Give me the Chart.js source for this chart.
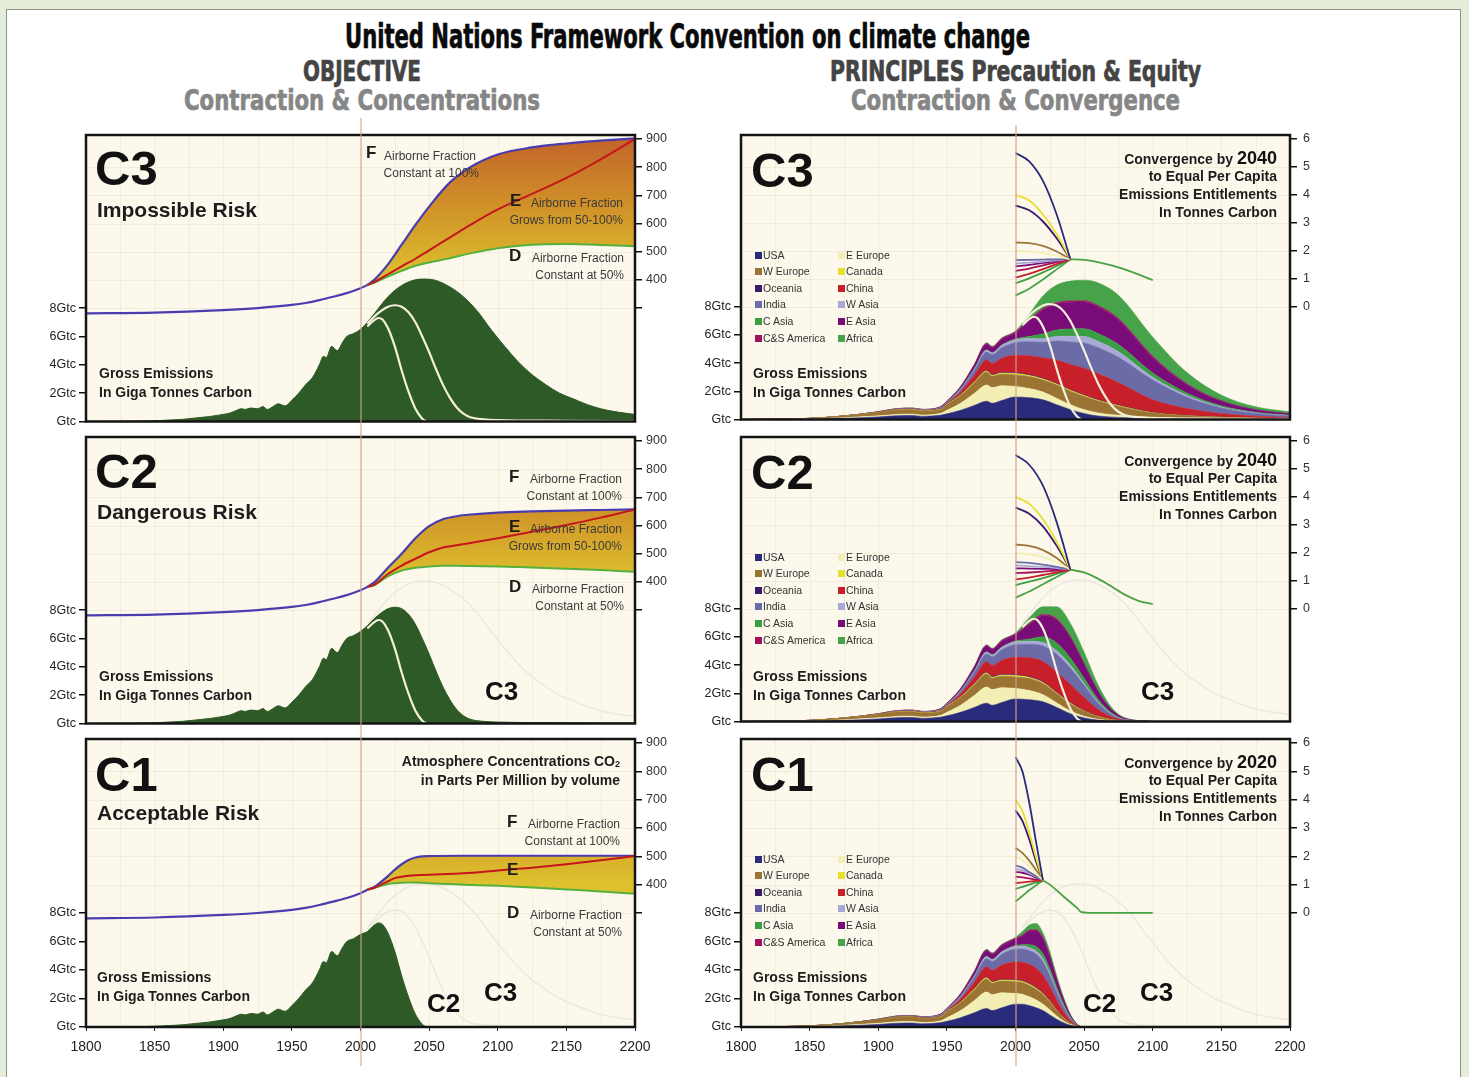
<!DOCTYPE html>
<html>
<head>
<meta charset="utf-8">
<script src="https://cdn.jsdelivr.net/npm/chart.js@4.4.1/dist/chart.umd.min.js"></script>
<style>
  body { margin: 0; width: 1469px; height: 1077px; overflow: hidden; position: relative;
         background: #e4edd9; font-family: Arial, "Liberation Sans", sans-serif; }
  #sheet { position: absolute; left: 6px; top: 9px; width: 1453px; height: 1100px;
           background: #fff; border: 1px solid #8c9488; }
  .cv { position: absolute; }
  .t { position: absolute; white-space: nowrap; line-height: 1; }
  .head { position: absolute; white-space: nowrap; line-height: 1; font-weight: bold;
          font-family: "Liberation Sans Narrow", "DejaVu Sans Condensed", sans-serif;
          transform-origin: 0 0; -webkit-text-stroke: 0.7px currentColor; }
  .y2000 { position: absolute; width: 2px; background: rgba(205,165,140,0.55); pointer-events: none; }
  .sq { position: absolute; width: 7px; height: 7px; }
</style>
</head>
<body>
<div id="sheet"></div>
<script>
// ---------- axis ticks ----------
const xTickYears = [1800, 1850, 1900, 1950, 2000, 2050, 2100, 2150, 2200];
const xTickLabels = ['1800', '1850', '1900', '1950', '2000', '2050', '2100', '2150', '2200'];
const gtcTicks = [0, 2, 4, 6, 8];
const gtcLabels = ['Gtc', '2Gtc', '4Gtc', '6Gtc', '8Gtc'];
const ppmTicks = [300, 400, 500, 600, 700, 800, 900];
const ppmLabels = ['', '400', '500', '600', '700', '800', '900'];
const pcTicks = [0, 1, 2, 3, 4, 5, 6];
const pcLabels = ['0', '1', '2', '3', '4', '5', '6'];

// ---------- gross emissions (Gt carbon) ----------
const emHistYears = [1800, 1830, 1850, 1860, 1870, 1880, 1890, 1900, 1905, 1910, 1913, 1916, 1920, 1925, 1929, 1932, 1937, 1940, 1945, 1950, 1955, 1960, 1965, 1970, 1973, 1975, 1979, 1983, 1987, 1990, 1995, 2000];
const emHist = [0, 0.02, 0.05, 0.1, 0.15, 0.25, 0.35, 0.5, 0.6, 0.8, 0.9, 0.85, 0.95, 0.9, 1.05, 0.85, 1.1, 1.25, 1.1, 1.5, 2.0, 2.6, 3.1, 4.0, 4.6, 4.5, 5.3, 5.0, 5.6, 6.0, 6.2, 6.5];
const emC3Years = [2005, 2010, 2020, 2030, 2040, 2046, 2055, 2065, 2075, 2085, 2095, 2105, 2115, 2125, 2135, 2145, 2155, 2165, 2175, 2185, 2200];
const emC3 = [7.0, 7.6, 8.8, 9.6, 10.0, 10.05, 9.95, 9.5, 8.8, 7.8, 6.5, 5.3, 4.2, 3.3, 2.6, 2.0, 1.6, 1.2, 0.9, 0.7, 0.5];
const emC2Years = [2005, 2010, 2015, 2020, 2025, 2030, 2035, 2040, 2045, 2050, 2055, 2060, 2065, 2070, 2075, 2080, 2090, 2100, 2150, 2200];
const emC2 = [6.9, 7.4, 7.8, 8.1, 8.2, 8.1, 7.7, 7.0, 6.0, 4.9, 3.7, 2.6, 1.7, 1.0, 0.55, 0.3, 0.15, 0.1, 0.05, 0.03];
const emC1Years = [2005, 2010, 2013, 2016, 2020, 2025, 2030, 2035, 2040, 2045, 2048];
const emC1 = [6.7, 7.15, 7.3, 7.2, 6.6, 5.3, 3.6, 2.1, 0.9, 0.2, 0];

// ---------- atmospheric concentration (ppmv) ----------
const concHistYears = [1800, 1850, 1900, 1925, 1950, 1960, 1970, 1980, 1990, 2000, 2005];
const concHist = [281, 284, 293, 300, 311, 318, 328, 340, 353, 370, 382];
const concC3Years = [2005, 2010, 2020, 2030, 2040, 2050, 2065, 2080, 2100, 2125, 2150, 2175, 2200];
const concC3F = [382, 400, 455, 525, 595, 660, 745, 800, 845, 870, 884, 894, 902];
const concC3E = [382, 392, 420, 448, 475, 505, 550, 595, 650, 705, 762, 828, 900];
const concC3D = [382, 390, 412, 432, 450, 462, 477, 494, 512, 525, 527, 524, 519];
const concC2Years = [2005, 2010, 2020, 2030, 2040, 2050, 2060, 2070, 2080, 2100, 2125, 2150, 2175, 2200];
const concC2F = [382, 398, 450, 500, 555, 598, 622, 633, 639, 646, 650, 653, 655, 657];
const concC2E = [382, 390, 428, 458, 482, 505, 522, 530, 538, 555, 578, 602, 628, 657];
const concC2D = [382, 388, 420, 440, 450, 455, 457, 457, 456, 455, 451, 447, 442, 436];
const concC1Years = [2005, 2010, 2015, 2020, 2025, 2030, 2035, 2040, 2045, 2050, 2075, 2100, 2125, 2150, 2175, 2200];
const concC1F = [382, 392, 410, 430, 453, 472, 487, 496, 500, 501, 502, 502, 502, 502, 502, 502];
const concC1E = [382, 389, 400, 412, 423, 428, 431, 433, 434, 435, 440, 450, 460, 472, 486, 501];
const concC1D = [382, 388, 396, 402, 405, 407, 408, 408, 407, 405, 400, 396, 390, 383, 376, 368];

// ---------- regional emissions, stacked (Gt carbon), legend order ----------
const regions = ['USA', 'E Europe', 'W Europe', 'Canada', 'Oceania', 'China', 'India', 'W Asia', 'C Asia', 'E Asia', 'C&S America', 'Africa'];
const regionColors = ['#2b2b7c', '#f3efb4', '#9b7434', '#e6df2e', '#3b1a6c', '#c8202a', '#6b6ba8', '#a9a9d8', '#3a9f42', '#7a0c7a', '#a3125c', '#46a34a'];
const stackHistYears = [1800, 1850, 1875, 1900, 1913, 1925, 1932, 1945, 1950, 1960, 1970, 1979, 1983, 1990, 2000];
const layersHist = [
  [0, 0.02, 0.08, 0.18, 0.26, 0.28, 0.22, 0.30, 0.40, 0.65, 1.00, 1.30, 1.15, 1.35, 1.60],
  [0, 0.01, 0.04, 0.08, 0.10, 0.10, 0.10, 0.12, 0.25, 0.50, 0.85, 1.15, 1.12, 1.05, 0.75],
  [0, 0.05, 0.12, 0.24, 0.32, 0.32, 0.28, 0.28, 0.40, 0.55, 0.75, 0.92, 0.80, 0.82, 0.82],
  [0, 0, 0.01, 0.01, 0.02, 0.02, 0.02, 0.02, 0.03, 0.04, 0.06, 0.08, 0.07, 0.08, 0.09],
  [0, 0, 0, 0.01, 0.01, 0.01, 0.01, 0.01, 0.01, 0.02, 0.03, 0.04, 0.04, 0.05, 0.05],
  [0, 0, 0, 0.01, 0.01, 0.02, 0.02, 0.03, 0.05, 0.20, 0.45, 0.75, 0.80, 1.00, 1.25],
  [0, 0, 0, 0.01, 0.02, 0.02, 0.03, 0.04, 0.06, 0.15, 0.35, 0.55, 0.62, 0.75, 0.90],
  [0, 0, 0, 0, 0, 0.01, 0.01, 0.02, 0.02, 0.05, 0.08, 0.13, 0.12, 0.15, 0.20],
  [0, 0, 0, 0, 0, 0, 0, 0.01, 0.01, 0.02, 0.03, 0.04, 0.04, 0.05, 0.06],
  [0, 0, 0, 0.01, 0.02, 0.02, 0.02, 0.04, 0.05, 0.12, 0.25, 0.40, 0.35, 0.40, 0.45],
  [0, 0, 0, 0, 0.01, 0.01, 0.01, 0.02, 0.02, 0.03, 0.04, 0.05, 0.05, 0.05, 0.06],
  [0, 0, 0, 0, 0, 0, 0, 0.01, 0.01, 0.02, 0.03, 0.04, 0.04, 0.05, 0.06]
];
const stackC3Years = [2010, 2020, 2030, 2040, 2050, 2060, 2075, 2100, 2125, 2150, 2175, 2200];
const layersC3 = [
  [1.55, 1.40, 1.05, 0.70, 0.42, 0.25, 0.15, 0.07, 0.04, 0.03, 0.02, 0.01],
  [0.65, 0.55, 0.45, 0.35, 0.28, 0.22, 0.15, 0.09, 0.05, 0.03, 0.02, 0.01],
  [0.85, 0.85, 0.95, 0.95, 0.94, 0.85, 0.65, 0.30, 0.17, 0.09, 0.05, 0.03],
  [0.08, 0.08, 0.07, 0.07, 0.06, 0.05, 0.04, 0.02, 0.01, 0.01, 0.01, 0],
  [0.05, 0.05, 0.05, 0.04, 0.04, 0.04, 0.03, 0.02, 0.01, 0.01, 0, 0],
  [1.35, 1.45, 1.65, 1.80, 1.90, 1.85, 1.60, 0.90, 0.50, 0.25, 0.13, 0.08],
  [1.00, 1.10, 1.35, 1.60, 1.80, 1.85, 1.80, 1.40, 0.80, 0.40, 0.20, 0.12],
  [0.22, 0.25, 0.33, 0.40, 0.45, 0.45, 0.40, 0.20, 0.12, 0.06, 0.03, 0.02],
  [0.15, 0.35, 0.45, 0.52, 0.55, 0.55, 0.50, 0.30, 0.17, 0.09, 0.05, 0.03],
  [1.10, 1.70, 1.85, 1.90, 1.90, 1.90, 1.75, 1.10, 0.60, 0.33, 0.17, 0.10],
  [0.08, 0.10, 0.10, 0.10, 0.10, 0.10, 0.10, 0.10, 0.06, 0.03, 0.02, 0.01],
  [0.40, 0.90, 1.25, 1.40, 1.45, 1.60, 1.65, 1.35, 0.80, 0.40, 0.20, 0.13]
];
const stackC2Years = [2010, 2020, 2030, 2040, 2050, 2060, 2070, 2080, 2100];
const layersC2 = [
  [1.55, 1.40, 1.00, 0.55, 0.25, 0.10, 0.04, 0.01, 0],
  [0.65, 0.50, 0.32, 0.20, 0.12, 0.06, 0.02, 0.01, 0],
  [0.85, 0.80, 0.65, 0.50, 0.35, 0.18, 0.07, 0.02, 0],
  [0.08, 0.07, 0.06, 0.05, 0.03, 0.02, 0.01, 0, 0],
  [0.05, 0.05, 0.04, 0.03, 0.02, 0.01, 0.01, 0, 0],
  [1.35, 1.45, 1.45, 1.30, 0.95, 0.50, 0.18, 0.04, 0],
  [0.95, 1.10, 1.25, 1.15, 0.85, 0.45, 0.17, 0.04, 0],
  [0.22, 0.25, 0.25, 0.22, 0.15, 0.08, 0.03, 0.01, 0],
  [0.15, 0.40, 0.55, 0.50, 0.35, 0.20, 0.08, 0.02, 0],
  [1.05, 1.50, 1.65, 1.45, 1.00, 0.55, 0.22, 0.06, 0],
  [0.07, 0.08, 0.08, 0.07, 0.05, 0.03, 0.01, 0, 0],
  [0.40, 0.55, 0.85, 0.95, 0.80, 0.45, 0.16, 0.04, 0]
];
const stackC1Years = [2005, 2010, 2015, 2020, 2025, 2030, 2035, 2040, 2045, 2048];
const layersC1 = [
  [1.60, 1.50, 1.35, 1.15, 0.85, 0.55, 0.30, 0.12, 0.03, 0],
  [0.70, 0.62, 0.55, 0.45, 0.35, 0.22, 0.12, 0.05, 0.01, 0],
  [0.82, 0.80, 0.75, 0.68, 0.55, 0.38, 0.22, 0.09, 0.02, 0],
  [0.08, 0.08, 0.07, 0.06, 0.05, 0.03, 0.02, 0.01, 0, 0],
  [0.05, 0.05, 0.05, 0.04, 0.03, 0.02, 0.01, 0.01, 0, 0],
  [1.30, 1.35, 1.35, 1.25, 1.00, 0.70, 0.40, 0.17, 0.04, 0],
  [0.92, 0.95, 1.00, 0.95, 0.78, 0.55, 0.33, 0.14, 0.03, 0],
  [0.21, 0.22, 0.22, 0.21, 0.17, 0.12, 0.07, 0.03, 0.01, 0],
  [0.10, 0.20, 0.30, 0.35, 0.30, 0.22, 0.13, 0.06, 0.01, 0],
  [0.60, 0.95, 1.10, 1.05, 0.85, 0.55, 0.32, 0.13, 0.03, 0],
  [0.07, 0.08, 0.08, 0.08, 0.06, 0.04, 0.02, 0.01, 0, 0],
  [0.25, 0.35, 0.45, 0.33, 0.31, 0.22, 0.16, 0.08, 0.02, 0]
];

// ---------- per capita entitlements (tonnes carbon) ----------
const pcC3Years = [2000, 2010, 2020, 2030, 2040];
const pcC3 = [
  [5.5, 5.2, 4.5, 3.3, 1.7], [2.0, 1.98, 1.92, 1.83, 1.7], [2.3, 2.28, 2.18, 1.98, 1.7],
  [4.0, 3.8, 3.3, 2.6, 1.7], [3.62, 3.45, 3.05, 2.45, 1.7], [1.05, 1.18, 1.35, 1.53, 1.7],
  [1.67, 1.68, 1.69, 1.7, 1.7], [1.55, 1.58, 1.62, 1.66, 1.7], [0.85, 1.02, 1.23, 1.46, 1.7],
  [1.45, 1.5, 1.57, 1.64, 1.7], [1.28, 1.37, 1.48, 1.6, 1.7], [0.4, 0.65, 0.98, 1.34, 1.7]
];
const pcC2Years = [2000, 2010, 2020, 2030, 2040];
const pcC2 = [
  [5.5, 5.15, 4.4, 3.1, 1.4], [2.0, 1.95, 1.85, 1.67, 1.4], [2.3, 2.25, 2.1, 1.82, 1.4],
  [4.0, 3.75, 3.2, 2.4, 1.4], [3.62, 3.4, 2.95, 2.25, 1.4], [1.05, 1.12, 1.21, 1.3, 1.4],
  [1.67, 1.64, 1.58, 1.5, 1.4], [1.55, 1.53, 1.5, 1.46, 1.4], [0.85, 0.97, 1.1, 1.25, 1.4],
  [1.45, 1.44, 1.43, 1.42, 1.4], [1.28, 1.3, 1.33, 1.37, 1.4], [0.4, 0.62, 0.88, 1.14, 1.4]
];
const pcC1Years = [2000, 2005, 2010, 2015, 2020];
const pcC1 = [
  [5.5, 5.0, 3.9, 2.5, 1.15], [2.0, 1.87, 1.65, 1.4, 1.15], [2.3, 2.12, 1.85, 1.52, 1.15],
  [4.0, 3.6, 2.85, 1.95, 1.15], [3.62, 3.25, 2.6, 1.82, 1.15], [1.05, 1.08, 1.11, 1.13, 1.15],
  [1.67, 1.6, 1.45, 1.3, 1.15], [1.55, 1.5, 1.4, 1.28, 1.15], [0.85, 0.92, 1.0, 1.08, 1.15],
  [1.45, 1.42, 1.35, 1.25, 1.15], [1.28, 1.26, 1.22, 1.18, 1.15], [0.4, 0.6, 0.8, 0.98, 1.15]
];
const pcGlobC3Years = [2040, 2050, 2060, 2070, 2080, 2090, 2100];
const pcGlobC3 = [1.7, 1.68, 1.6, 1.48, 1.33, 1.15, 0.95];
const pcGlobC2Years = [2040, 2050, 2060, 2070, 2080, 2090, 2100];
const pcGlobC2 = [1.4, 1.3, 1.08, 0.8, 0.5, 0.28, 0.17];
const pcGlobC1Years = [2020, 2025, 2030, 2035, 2040, 2045, 2048, 2060, 2080, 2100];
const pcGlobC1 = [1.15, 1.0, 0.8, 0.58, 0.38, 0.17, 0.03, 0, 0, 0];

// ---------- layout ----------
Chart.defaults.font.family = 'Arial, "Liberation Sans", sans-serif';
Chart.defaults.color = '#222';
const LEFT_COL = { canvasLeft: 20, width: 670, leftW: 66 };
const RIGHT_COL = { canvasLeft: 690, width: 660, leftW: 51 };
const ROW_TOPS = [135, 437, 739];
const PLOT_W = 549, PLOT_H = 288, PAD_TOP = 15;
const GTC_MAX = 20.21;
const PPM_MIN = -102.5, PPM_MAX = 914.1;
const PC_MIN = -4.025, PC_MAX = 6.141;

const pts = (xs, ys) => xs.map((x, i) => ({ x, y: ys[i] }));
const smooth = { tension: 0.4, cubicInterpolationMode: 'monotone', pointRadius: 0 };

const panelPlugin = {
  id: 'panel',
  beforeDraw(chart) {
    const { ctx, chartArea: a, scales } = chart;
    ctx.save();
    ctx.fillStyle = '#fcf9ec';
    ctx.fillRect(a.left, a.top, a.right - a.left, a.bottom - a.top);
    ctx.strokeStyle = 'rgba(185,175,140,0.16)';
    ctx.lineWidth = 1;
    for (let yr = 1825; yr < 2200; yr += 25) {
      const x = Math.round(scales.x.getPixelForValue(yr)) + 0.5;
      ctx.beginPath(); ctx.moveTo(x, a.top); ctx.lineTo(x, a.bottom); ctx.stroke();
    }
    const yr = scales.yR;
    [300, 400, 500, 600, 700, 800].forEach(v => {
      const val = yr.options.max > 100 ? v : (v - 300) / 100;
      const y = Math.round(yr.getPixelForValue(val)) + 0.5;
      ctx.beginPath(); ctx.moveTo(a.left, y); ctx.lineTo(a.right, y); ctx.stroke();
    });
    ctx.restore();
  },
  afterDatasetsDraw(chart) {
    const { ctx, chartArea: a } = chart;
    ctx.save();
    ctx.strokeStyle = '#141414';
    ctx.lineWidth = 2.5;
    ctx.strokeRect(a.left, a.top, a.right - a.left, a.bottom - a.top);
    ctx.restore();
  }
};

function bandFill(ctx) {
  const ch = ctx.chart;
  if (!ch.chartArea) return 'rgba(0,0,0,0)';
  const y = ch.scales.yR;
  const g = ch.ctx.createLinearGradient(0, y.getPixelForValue(900), 0, y.getPixelForValue(400));
  g.addColorStop(0, '#c2642a');
  g.addColorStop(0.45, '#cf8f28');
  g.addColorStop(1, '#ddc22e');
  return g;
}

function makeScales(col, row, rightKind, stacked) {
  const bottomSpace = row === 2 ? 40 : 10;
  const rightW = col.width - col.leftW - PLOT_W;
  const tickGrid = { drawOnChartArea: false, tickLength: 7, color: '#111', lineWidth: 1.5 };
  const s = {
    x: {
      type: 'linear', min: 1800, max: 2200,
      afterBuildTicks: sc => { sc.ticks = xTickYears.map(v => ({ value: v })); },
      ticks: { display: row === 2, callback: (v, i) => xTickLabels[i], font: { size: 14 }, color: '#222', padding: 8, maxRotation: 0, autoSkip: false },
      grid: { drawOnChartArea: false, drawTicks: row === 2, tickLength: 4, color: '#222' },
      border: { display: false },
      afterFit: sc => { sc.height = bottomSpace; }
    },
    yL: {
      position: 'left', min: 0, max: GTC_MAX, stacked: stacked,
      afterBuildTicks: sc => { sc.ticks = gtcTicks.map(v => ({ value: v })); },
      ticks: { callback: (v, i) => gtcLabels[i], font: { size: 12.5 }, color: '#222', padding: 3 },
      grid: tickGrid, border: { display: false },
      afterFit: sc => { sc.width = col.leftW; }
    },
    yW: { display: false, min: 0, max: GTC_MAX },
    yR: rightKind === 'ppm' ? {
      position: 'right', min: PPM_MIN, max: PPM_MAX,
      afterBuildTicks: sc => { sc.ticks = ppmTicks.map(v => ({ value: v })); },
      ticks: { callback: (v, i) => ppmLabels[i], font: { size: 12.5 }, color: '#333', padding: 4 },
      grid: tickGrid, border: { display: false },
      afterFit: sc => { sc.width = rightW; }
    } : {
      position: 'right', min: PC_MIN, max: PC_MAX,
      afterBuildTicks: sc => { sc.ticks = pcTicks.map(v => ({ value: v })); },
      ticks: { callback: (v, i) => pcLabels[i], font: { size: 12.5 }, color: '#333', padding: 6 },
      grid: tickGrid, border: { display: false },
      afterFit: sc => { sc.width = rightW; }
    }
  };
  return { scales: s, bottomSpace };
}

function makeChart(col, row, rightKind, stacked, datasets) {
  const { scales, bottomSpace } = makeScales(col, row, rightKind, stacked);
  const c = document.createElement('canvas');
  c.className = 'cv';
  c.width = col.width;
  c.height = PAD_TOP + PLOT_H + bottomSpace;
  c.style.width = c.width + 'px';
  c.style.height = c.height + 'px';
  c.style.left = col.canvasLeft + 'px';
  c.style.top = (ROW_TOPS[row] - PAD_TOP) + 'px';
  document.body.appendChild(c);
  new Chart(c, {
    type: 'line',
    data: { datasets },
    options: {
      responsive: false, animation: false, devicePixelRatio: 1,
      layout: { padding: { top: PAD_TOP, left: 0, right: 0, bottom: 0 } },
      plugins: { legend: { display: false }, tooltip: { enabled: false } },
      scales
    },
    plugins: [panelPlugin]
  });
}

const scen = {
  C3: { emX: emC3Years, em: emC3 },
  C2: { emX: emC2Years, em: emC2 },
  C1: { emX: emC1Years, em: emC1 }
};
const ghostLine = (s, axis) => ({ data: pts(scen[s].emX, scen[s].em), yAxisID: axis, borderColor: '#ebe9e0', borderWidth: 1.6, fill: false, order: 40, ...smooth });
const whiteLine = (s, axis) => ({ data: pts(scen[s].emX, scen[s].em), yAxisID: axis, borderColor: '#f4f0da', borderWidth: 2.2, fill: false, order: 20, ...smooth });

function leftDatasets(key, ghosts, whites, cy, cF, cE, cD) {
  const ds = [];
  ghosts.forEach(g => ds.push(ghostLine(g, 'yL')));
  ds.push({ data: pts(emHistYears.concat(scen[key].emX), emHist.concat(scen[key].em)), yAxisID: 'yL',
            backgroundColor: '#2e5a27', borderColor: '#2e5a27', borderWidth: 1, fill: 'origin', order: 30, ...smooth });
  whites.forEach(w => ds.push(whiteLine(w, 'yL')));
  const iD = ds.length;
  ds.push({ data: pts(cy, cD), yAxisID: 'yR', borderColor: '#58b03c', borderWidth: 2, fill: false, order: 6, ...smooth });
  ds.push({ data: pts(cy, cE), yAxisID: 'yR', borderColor: '#c4161c', borderWidth: 2, fill: false, order: 5, ...smooth });
  ds.push({ data: pts(cy, cF), yAxisID: 'yR', borderColor: '#4a3cae', borderWidth: 2.2, fill: iD, backgroundColor: bandFill, order: 7, ...smooth });
  ds.push({ data: pts(concHistYears, concHist), yAxisID: 'yR', borderColor: '#4a3cae', borderWidth: 2.2, fill: false, order: 4, ...smooth });
  return ds;
}

function rightDatasets(ghosts, whites, stackYears, layers, pcYears, pc, globYears, glob) {
  const ds = [];
  ghosts.forEach(g => ds.push(ghostLine(g, 'yW')));
  const xs = stackHistYears.concat(stackYears);
  regions.forEach((r, i) => {
    ds.push({ label: r, data: pts(xs, layersHist[i].concat(layers[i])), yAxisID: 'yL',
              backgroundColor: regionColors[i], borderColor: regionColors[i], borderWidth: 0.6,
              fill: i === 0 ? 'origin' : '-1', order: 30, ...smooth });
  });
  whites.forEach(w => ds.push(whiteLine(w, 'yW')));
  regions.forEach((r, i) => {
    ds.push({ data: pts(pcYears, pc[i]), yAxisID: 'yR', borderColor: regionColors[i], borderWidth: 1.8, fill: false, order: 10, ...smooth });
  });
  ds.push({ data: pts(globYears, glob), yAxisID: 'yR', borderColor: '#4aa244', borderWidth: 1.8, fill: false, order: 9, ...smooth });
  return ds;
}

makeChart(LEFT_COL, 0, 'ppm', false, leftDatasets('C3', [], ['C2', 'C1'], concC3Years, concC3F, concC3E, concC3D));
makeChart(LEFT_COL, 1, 'ppm', false, leftDatasets('C2', ['C3'], ['C1'], concC2Years, concC2F, concC2E, concC2D));
makeChart(LEFT_COL, 2, 'ppm', false, leftDatasets('C1', ['C3', 'C2'], [], concC1Years, concC1F, concC1E, concC1D));
makeChart(RIGHT_COL, 0, 'pc', true, rightDatasets([], ['C2', 'C1'], stackC3Years, layersC3, pcC3Years, pcC3, pcGlobC3Years, pcGlobC3));
makeChart(RIGHT_COL, 1, 'pc', true, rightDatasets(['C3'], ['C1'], stackC2Years, layersC2, pcC2Years, pcC2, pcGlobC2Years, pcGlobC2));
makeChart(RIGHT_COL, 2, 'pc', true, rightDatasets(['C3', 'C2'], [], stackC1Years, layersC1, pcC1Years, pcC1, pcGlobC1Years, pcGlobC1));

// ---------- text ----------
function T(x, y, html, size, opts = {}) {
  const d = document.createElement('div');
  d.className = 't';
  d.innerHTML = html;
  d.style.fontSize = size + 'px';
  d.style.fontWeight = opts.bold ? 'bold' : 'normal';
  d.style.color = opts.color || (opts.bold ? '#1c1c1c' : '#3a3a3a');
  d.style.left = x + 'px';
  d.style.top = (y - size * (opts.off || 0.52)) + 'px';
  if (opts.right) d.style.transform = 'translateX(-100%)';
  document.body.appendChild(d);
}
const B = { bold: true };
const BR = { bold: true, right: true };
const R = { right: true };
const BIG = { bold: true, color: '#111', off: 0.49 };

function head(text, cx, cy, fs, targetW, color) {
  const d = document.createElement('div');
  d.className = 'head';
  d.textContent = text;
  d.style.fontSize = fs + 'px';
  d.style.color = color;
  document.body.appendChild(d);
  const w = d.getBoundingClientRect().width;
  d.style.left = (cx - targetW / 2) + 'px';
  d.style.top = (cy - fs * 0.5) + 'px';
  d.style.transform = 'scaleX(' + (targetW / w) + ')';
}

head('United Nations Framework Convention on climate change', 687, 36, 34, 685, '#0a0a0a');
head('OBJECTIVE', 362, 72, 28, 118, '#444');
head('Contraction & Concentrations', 362, 101, 28, 356, '#868686');
head('PRINCIPLES Precaution & Equity', 1015, 72, 28, 371, '#444');
head('Contraction & Convergence', 1015, 101, 28, 329, '#868686');

function gross(x, y) {
  T(x, y, 'Gross Emissions', 14, B);
  T(x, y + 19, 'In Giga Tonnes Carbon', 14, B);
}
function fLabel(x, xr, y, letter, l1, l2) {
  T(x, y, letter, 17, B);
  T(xr, y + 2, l1, 12, R);
  if (l2) T(xr, y + 19, l2, 12, R);
}

// left C3
T(95, 168, 'C3', 49, BIG);
T(97, 210, 'Impossible Risk', 21, B);
T(366, 153, 'F', 17, B); T(384, 156, 'Airborne Fraction', 12); T(479, 173, 'Constant at 100%', 12, R);
fLabel(510, 623, 201, 'E', 'Airborne Fraction', 'Grows from 50-100%');
fLabel(509, 624, 256, 'D', 'Airborne Fraction', 'Constant at 50%');
gross(99, 373);
// left C2
T(95, 471, 'C2', 49, BIG);
T(97, 512, 'Dangerous Risk', 21, B);
fLabel(509, 622, 477, 'F', 'Airborne Fraction', 'Constant at 100%');
fLabel(509, 622, 527, 'E', 'Airborne Fraction', 'Grows from 50-100%');
fLabel(509, 624, 587, 'D', 'Airborne Fraction', 'Constant at 50%');
gross(99, 676);
T(485, 691, 'C3', 26, BIG);
// left C1
T(95, 774, 'C1', 49, BIG);
T(97, 813, 'Acceptable Risk', 21, B);
T(620, 761, 'Atmosphere Concentrations CO<sub style="font-size:9px;vertical-align:-1px">2</sub>', 14, BR);
T(620, 780, 'in Parts Per Million by volume', 14, BR);
fLabel(507, 620, 822, 'F', 'Airborne Fraction', 'Constant at 100%');
T(507, 870, 'E', 17, B);
fLabel(507, 622, 913, 'D', 'Airborne Fraction', 'Constant at 50%');
gross(97, 977);
T(427, 1003, 'C2', 26, BIG);
T(484, 992, 'C3', 26, BIG);

function conv(y, year) {
  T(1277, y - 1.5, 'Convergence by <span style="font-size:18px;color:#111">' + year + '</span>', 14, BR);
  T(1277, y + 18, 'to Equal Per Capita', 14, BR);
  T(1277, y + 36.5, 'Emissions Entitlements', 14, BR);
  T(1277, y + 54.5, 'In Tonnes Carbon', 14, BR);
}
function legend(y0) {
  regions.forEach((r, i) => {
    const row = Math.floor(i / 2), colX = i % 2 === 0 ? 755 : 838;
    const y = y0 + row * 16.6;
    const sq = document.createElement('div');
    sq.className = 'sq';
    sq.style.left = colX + 'px';
    sq.style.top = (y - 3.5) + 'px';
    sq.style.background = regionColors[i];
    document.body.appendChild(sq);
    T(colX + 8, y, r, 10.5, { color: '#333' });
  });
}
// right C3
T(751, 170, 'C3', 49, BIG);
conv(158, '2040');
legend(255);
gross(753, 373);
// right C2
T(751, 472, 'C2', 49, BIG);
conv(460, '2040');
legend(557);
gross(753, 676);
T(1141, 691, 'C3', 26, BIG);
// right C1
T(751, 774, 'C1', 49, BIG);
conv(762, '2020');
legend(859);
gross(753, 977);
T(1083, 1003, 'C2', 26, BIG);
T(1140, 992, 'C3', 26, BIG);

// year 2000 markers
[[359.5, 118], [1014.5, 125]].forEach(([x, top]) => {
  const d = document.createElement('div');
  d.className = 'y2000';
  d.style.left = x + 'px';
  d.style.top = top + 'px';
  d.style.height = (1066 - top) + 'px';
  document.body.appendChild(d);
});
</script>
</body>
</html>
